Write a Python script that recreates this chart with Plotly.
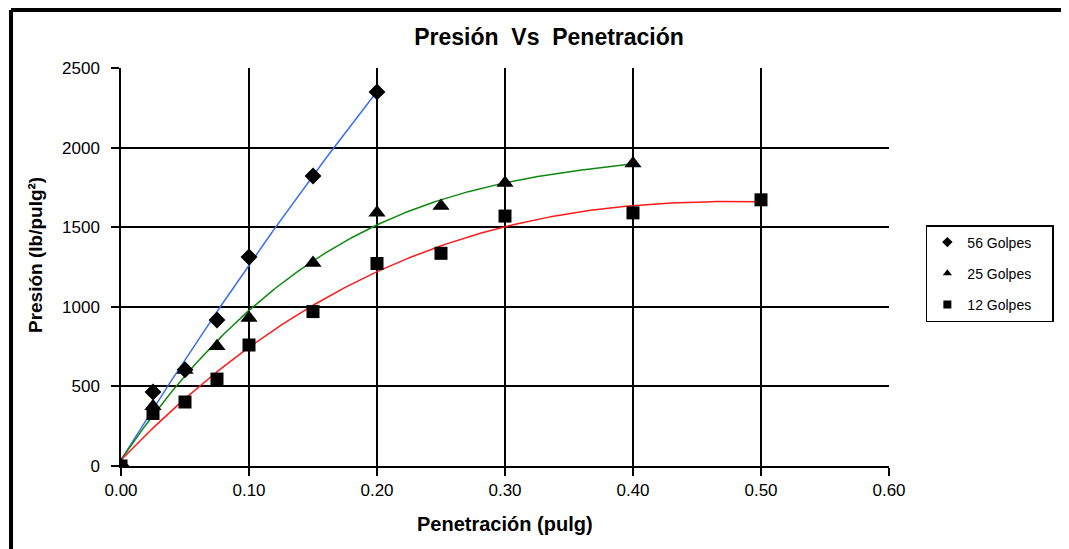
import numpy as np
import plotly.graph_objects as go

# Data
pen_56 = [0.0, 0.025, 0.05, 0.075, 0.10, 0.15, 0.20]
pres_56 = [0, 465, 605, 917, 1313, 1822, 2350]

pen_25 = [0.0, 0.025, 0.05, 0.075, 0.10, 0.15, 0.20, 0.25, 0.30, 0.40]
pres_25 = [0, 375, 603, 752, 930, 1275, 1590, 1633, 1778, 1900]

pen_12 = [0.0, 0.025, 0.05, 0.075, 0.10, 0.15, 0.20, 0.25, 0.30, 0.40, 0.50]
pres_12 = [0, 330, 402, 546, 760, 970, 1272, 1336, 1570, 1590, 1672]

series = [
    ("56 Golpes", pen_56, pres_56, "diamond", 13, "#3A6EF2"),
    ("25 Golpes", pen_25, pres_25, "triangle-up", 15, "#118811"),
    ("12 Golpes", pen_12, pres_12, "square", 13, "#FF1A1A"),
]

fig = go.Figure()

# polynomial trendlines (like Excel's), fitted to the data
for name, xs, ys, sym, sz, col in series:
    coef = np.polyfit(xs, ys, 3)
    xf = np.linspace(0, max(xs), 200)
    fig.add_trace(go.Scatter(x=xf, y=np.polyval(coef, xf), mode="lines",
                             line=dict(color=col, width=1.5), showlegend=False,
                             hoverinfo="skip"))

PAD = "\u00a0" * 4
for i, (name, xs, ys, sym, sz, col) in enumerate(series):
    fig.add_trace(go.Scatter(x=xs, y=ys, mode="markers", name=name,
                             showlegend=False,
                             marker=dict(symbol=sym, size=sz, color="black")))
    # legend entry with the small legend symbol
    fig.add_trace(go.Scatter(x=[None], y=[None], mode="markers", name=name + PAD,
                             legendgroup=f"g{i}",
                             marker=dict(symbol=sym, size=8, color="black")))

FONT = "Liberation Sans, Arial, sans-serif"
W, H = 1061, 541
L, T, R, B = 113, 60, 180, 83
fig.update_layout(
    width=W, height=H,
    margin=dict(l=L, r=R, t=T, b=B),
    paper_bgcolor="white", plot_bgcolor="white",
    font=dict(family=FONT, size=17, color="black"),
    title=dict(text="<b>Presión  Vs  Penetración</b>", x=541 / W, xanchor="center",
               y=1 - 29 / H, yanchor="middle", font=dict(size=23, family=FONT)),
    xaxis=dict(range=[0, 0.6], dtick=0.1, tickformat=".2f", showgrid=True,
               gridcolor="black", gridwidth=1.5, zeroline=False,
               showline=True, linecolor="black", linewidth=1.5,
               ticks="outside", ticklen=8, tickcolor="black", tickwidth=1.5,
               fixedrange=True),
    yaxis=dict(range=[0, 2500], dtick=500, showgrid=True,
               gridcolor="black", gridwidth=1.5, zeroline=False,
               showline=True, linecolor="black", linewidth=1.5,
               ticks="outside", ticklen=8, tickcolor="black", tickwidth=1.5,
               ticklabelstandoff=8, fixedrange=True),
    legend=dict(x=1.048, y=0.6055, xanchor="left", yanchor="top",
                bordercolor="black", borderwidth=1.5, bgcolor="white",
                font=dict(size=14, family=FONT), itemsizing="trace",
                tracegroupgap=10, traceorder="grouped"),
    annotations=[
        dict(text="<b>Penetración (pulg)</b>", xref="paper", yref="paper",
             x=0.5, y=-0.1457, xanchor="center", yanchor="middle",
             showarrow=False, font=dict(size=20)),
        dict(text="<b>Presión (lb/pulg²)</b>", xref="paper", yref="paper",
             x=-0.112, y=0.53, xanchor="center", yanchor="middle", textangle=-90,
             showarrow=False, font=dict(size=19)),
    ],
    shapes=[
        dict(type="line", xref="paper", yref="paper", x0=-0.1432, x1=-0.1432,
             y0=-0.5, y1=1.1457, line=dict(color="black", width=4)),
        dict(type="line", xref="paper", yref="paper", x0=-0.1432, x1=1.5,
             y0=1.1457, y1=1.1457, line=dict(color="black", width=4)),
    ],
)

fig.write_html("out.html")
